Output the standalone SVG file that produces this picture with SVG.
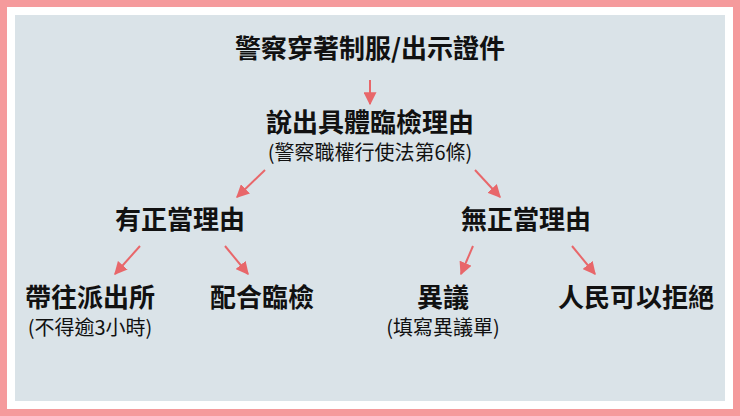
<svg xmlns="http://www.w3.org/2000/svg" width="740" height="416" viewBox="0 0 740 416">
<style>
.t{font-family:"Noto Sans CJK TC","Noto Sans CJK SC",sans-serif;font-weight:bold;font-size:26px;fill:#111;text-anchor:middle}
.s{font-family:"Noto Sans CJK TC","Noto Sans CJK SC",sans-serif;font-size:20px;fill:#111;text-anchor:middle}
.a{stroke:#E8676A;stroke-width:2;fill:none;marker-end:url(#m)}
</style>
<defs><marker id="m" viewBox="0 0 10 10" refX="9" refY="5" markerWidth="6.5" markerHeight="6.5" orient="auto"><path d="M0,0L10,5L0,10z" fill="#E8676A"/></marker></defs>
<rect width="740" height="416" fill="#F59A9C"/>
<rect x="7" y="7" width="726" height="402" fill="#fff"/>
<rect x="15" y="15" width="710" height="386" fill="#DAE3E8"/>
<g id="n1"><text class="t" x="370" y="58">警察穿著制服/出示證件</text></g>
<g id="n2"><text class="t" x="370" y="132">說出具體臨檢理由</text><text class="s" x="370" y="160">(警察職權行使法第6條)</text></g>
<g id="n3"><text class="t" x="180" y="229">有正當理由</text></g>
<g id="n4"><text class="t" x="526" y="229">無正當理由</text></g>
<g id="n5"><text class="t" x="90" y="307">帶往派出所</text><text class="s" x="90" y="335">(不得逾3小時)</text></g>
<g id="n6"><text class="t" x="262" y="307">配合臨檢</text></g>
<g id="n7"><text class="t" x="443" y="307">異議</text><text class="s" x="443" y="335">(填寫異議單)</text></g>
<g id="n8"><text class="t" x="636" y="307">人民可以拒絕</text></g>
<g id="edges">
<path class="a" d="M370,80L370,104"/>
<path class="a" d="M265,170L237,197"/>
<path class="a" d="M475,170L500,197"/>
<path class="a" d="M140,246L115,274"/>
<path class="a" d="M225,246L248,274"/>
<path class="a" d="M473,246L461,274"/>
<path class="a" d="M572,246L595,274"/>
</g>
</svg>
